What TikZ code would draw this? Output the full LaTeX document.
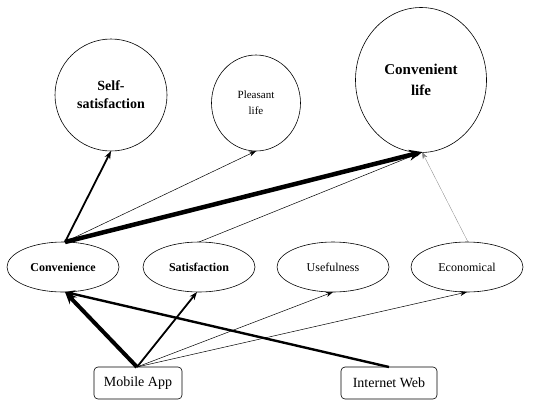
\documentclass[tikz,border=0pt]{standalone}
\usepackage{fontspec}
\setmainfont{Liberation Serif}
\usetikzlibrary{arrows.meta,shapes.geometric}
\begin{document}
\begin{tikzpicture}[x=1pt,y=-1pt,
  bigcirc/.style={draw,ellipse,line width=0.6pt,inner sep=0pt,align=center},
  construct/.style={draw,ellipse,line width=0.6pt,minimum width=112pt,minimum height=50pt,inner sep=0pt,font=\fontsize{12}{13}\selectfont},
  media/.style={draw,rounded corners=4pt,line width=0.6pt,minimum height=32pt,inner sep=0pt,font=\fontsize{14}{16}\selectfont},
  path/.style={-{Stealth[length=7pt,width=5pt]}}
]
\useasboundingbox (0,0) rectangle (535,400);

% outcome constructs
\node[bigcirc,minimum width=112pt,minimum height=112pt,font=\bfseries\fontsize{14}{18}\selectfont] (self) at (111,95) {Self-\\satisfaction};
\node[bigcirc,minimum width=89pt,minimum height=96pt,font=\fontsize{11}{16}\selectfont] (pleas) at (256,103) {Pleasant\\life};
\node[bigcirc,minimum width=131pt,minimum height=145pt,font=\bfseries\fontsize{15}{21}\selectfont] (clife) at (421,80) {Convenient\\life};

% mediating constructs
\node[construct,font=\bfseries\fontsize{12}{13}\selectfont] (conv) at (63,267) {Convenience};
\node[construct,font=\bfseries\fontsize{12}{13}\selectfont] (sat) at (199,267) {Satisfaction};
\node[construct] (use) at (333,267) {Usefulness};
\node[construct] (eco) at (467,267) {Economical};

% channels
\node[media,minimum width=88pt] (app) at (138,383) {Mobile App};
\node[media,minimum width=96pt] (web) at (389,383) {Internet Web};

% anchor points on the shapes
\coordinate (appT) at (137,367);
\coordinate (webT) at (389,367);
\coordinate (convB) at (65,292);
\coordinate (convT) at (65,242);
\coordinate (satB) at (197,292);
\coordinate (satT) at (199,242);
\coordinate (useB) at (333,292);
\coordinate (ecoB) at (467,292);
\coordinate (ecoT) at (468,242);
\coordinate (selfB) at (111,151);
\coordinate (pleasB) at (256,151);
\coordinate (clifeB) at (422,152);

% channel -> construct paths
\draw[path,line width=4pt,-{Stealth[length=12pt,width=10pt]}] (appT) -- (convB);
\draw[path,line width=1.8pt,-{Stealth[length=8pt,width=6pt]}] (appT) -- (satB);
\draw[path,line width=0.5pt] (appT) -- (useB);
\draw[path,line width=0.5pt] (appT) -- (ecoB);
\draw[path,line width=2.4pt,-{Stealth[length=10pt,width=8pt]}] (webT) -- (convB);

% construct -> outcome paths
\draw[path,line width=1.8pt,-{Stealth[length=8pt,width=6pt]}] (convT) -- (selfB);
\draw[path,line width=0.5pt] (convT) -- (pleasB);
\draw[path,line width=4.5pt,-{Stealth[length=13pt,width=11pt]}] (convT) -- (clifeB);
\draw[path,line width=0.5pt] (satT) -- (clifeB);
\draw[path,line width=0.3pt,draw=gray] (ecoT) -- (clifeB);
\end{tikzpicture}
\end{document}
